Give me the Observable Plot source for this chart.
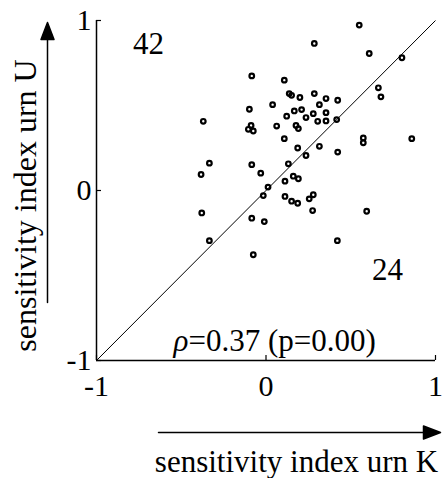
<!DOCTYPE html>
<html><head><meta charset="utf-8">
<script src="https://cdn.jsdelivr.net/npm/d3@7"></script>
<script src="https://cdn.jsdelivr.net/npm/@observablehq/plot@0.6"></script>
<style>body{margin:0;background:#fff}</style>
</head><body><div id="chart"></div>
<script>
// sensitivity index, urn K (x) and urn U (y), one value per subject
const sensK = [-0.084,-0.098,-0.37,-0.088,-0.104,-0.075,-0.334,-0.383,-0.084,-0.031,
  0.55,0.285,0.609,0.802,0.108,0.137,0.151,0.2,0.285,0.354,
  0.423,0.315,0.039,0.663,0.678,0.167,0.21,0.122,0.279,0.354,
  0.236,0.305,0.354,0.417,0.063,0.177,0.191,0.108,0.187,0.236,
  0.315,0.423,0.574,0.574,0.86,0.132,0.112,0.161,0.191,0.012,
  -0.016,-0.379,-0.334,-0.084,-0.01,-0.075,0.112,0.151,0.187,0.255,
  0.279,0.275,0.594,0.421];
const sensU = [0.674,0.478,0.407,0.383,0.36,0.35,0.161,0.094,0.152,0.102,
  0.973,0.865,0.806,0.781,0.649,0.57,0.56,0.547,0.57,0.541,
  0.531,0.505,0.505,0.604,0.551,0.468,0.476,0.437,0.452,0.458,
  0.429,0.407,0.409,0.417,0.379,0.383,0.364,0.305,0.25,0.206,
  0.26,0.226,0.309,0.281,0.305,0.157,0.055,0.084,0.069,0.02,
  -0.03,-0.132,-0.295,-0.163,-0.183,-0.378,-0.035,-0.063,-0.075,-0.049,
  -0.025,-0.118,-0.122,-0.295];
const axisDomain = [-1, 1];
const xTicks = [-1, 0, 1];
const yTicks = [-1, 0, 1];
const countAbove = "42";
const countBelow = "24";
const rhoSymbol = "\u03C1";
const rhoText = "=0.37 (p=0.00)";
const xLabel = "sensitivity index urn K";
const yLabel = "sensitivity index urn U";

const points = sensK.map((k, i) => ({k, u: sensU[i]}));
const diag = [{a: axisDomain[0], b: axisDomain[1]}];

const arrowShape = {
  draw(context, l) {
    const h = 17, w = 6.5;
    context.moveTo(0, 0);
    context.lineTo(0, -l + h);
    context.moveTo(-w, -l + h);
    context.lineTo(0, -l);
    context.lineTo(w, -l + h);
    context.closePath();
  }
};

const font = "'Liberation Serif', 'Times New Roman', serif";

const chart = Plot.plot({
  width: 448,
  height: 478,
  marginLeft: 96,
  marginRight: 13,
  marginTop: 20,
  marginBottom: 118,
  style: {fontFamily: font, background: "#fff", color: "#000", overflow: "visible"},
  x: {domain: axisDomain},
  y: {domain: axisDomain},
  marks: [
    Plot.ruleX([axisDomain[0]], {strokeWidth: 1.5}),
    Plot.ruleY([axisDomain[0]], {strokeWidth: 1.5}),
    Plot.axisX(xTicks, {tickSize: 5, dy: -5, tickFormat: () => "", strokeWidth: 1.2}),
    Plot.axisY(yTicks, {tickSize: 5, dx: 5, tickFormat: () => "", strokeWidth: 1.2}),
    Plot.axisX(xTicks, {tickSize: 0, tickPadding: 14, fontSize: 30, label: null, tickFormat: d => String(d)}),
    Plot.axisY(yTicks, {tickSize: 0, tickPadding: 5, fontSize: 30, label: null, tickFormat: d => String(d)}),
    Plot.link(diag, {x1: "a", y1: "a", x2: "b", y2: "b", stroke: "#000", strokeWidth: 1}),
    Plot.dot(points, {x: "k", y: "u", r: 2.3, stroke: "#000", strokeWidth: 2.2, fill: "none"}),
    Plot.text([countAbove], {text: d => d, frameAnchor: "top-left", dx: 52, dy: 33, lineAnchor: "bottom", textAnchor: "middle", fontSize: 31}),
    Plot.text([countBelow], {text: d => d, frameAnchor: "bottom-right", dx: -48, dy: -81, lineAnchor: "bottom", textAnchor: "middle", fontSize: 31}),
    Plot.text([rhoSymbol], {text: d => d, frameAnchor: "bottom-left", dx: 92, dy: -10, lineAnchor: "bottom", textAnchor: "end", fontSize: 31, fontStyle: "italic"}),
    Plot.text([rhoText], {text: d => d, frameAnchor: "bottom-left", dx: 92, dy: -10, lineAnchor: "bottom", textAnchor: "start", fontSize: 31}),
    Plot.text([xLabel], {text: d => d, frameAnchor: "bottom-left", dx: 200, dy: 111, lineAnchor: "bottom", textAnchor: "middle", fontSize: 31}),
    Plot.text([yLabel], {text: d => d, frameAnchor: "left", dx: -71, dy: 15, rotate: -90, lineAnchor: "middle", textAnchor: "middle", fontSize: 32}),
    Plot.vector([0], {frameAnchor: "bottom-left", dx: 62, dy: 72, length: 282, rotate: 90, anchor: "start", shape: arrowShape, stroke: "#000", fill: "#000", strokeWidth: 1.5}),
    Plot.vector([0], {frameAnchor: "bottom-left", dx: -49, dy: -58, length: 280, rotate: 0, anchor: "start", shape: arrowShape, stroke: "#000", fill: "#000", strokeWidth: 1.5})
  ]
});
document.getElementById("chart").appendChild(chart);
</script>
</body></html>
